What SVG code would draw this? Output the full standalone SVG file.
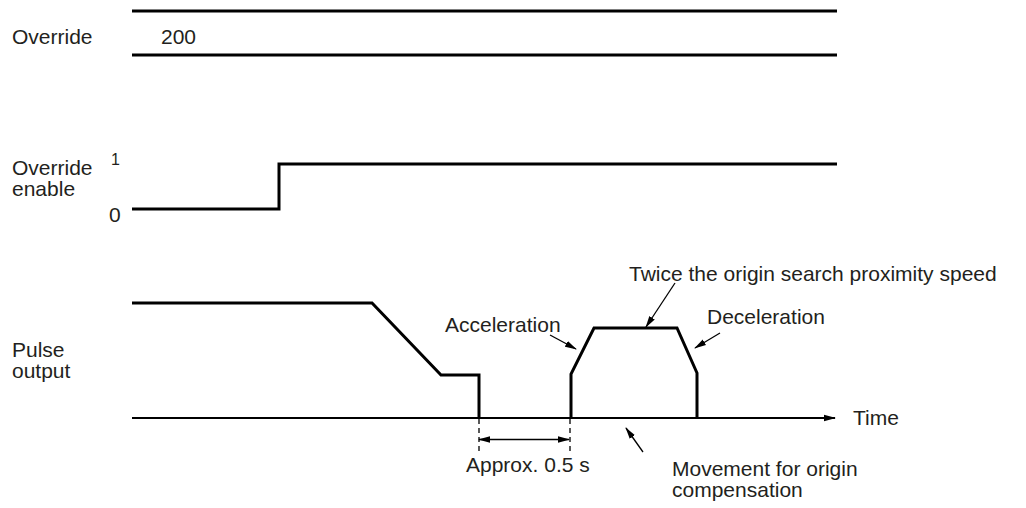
<svg xmlns="http://www.w3.org/2000/svg" width="1026" height="508" viewBox="0 0 1026 508">
<style>
text{font-family:"Liberation Sans",Arial,sans-serif;font-size:21px;fill:#231f20}
.sig{fill:none;stroke:#000;stroke-width:3;stroke-linejoin:miter}
.axis{fill:none;stroke:#000;stroke-width:2}
.thin{fill:none;stroke:#000;stroke-width:1.3}
.dash{fill:none;stroke:#000;stroke-width:1.3;stroke-dasharray:5 4}
</style>
<defs>
<marker id="ah" markerWidth="12" markerHeight="8" refX="11" refY="4" orient="auto" markerUnits="userSpaceOnUse">
<path d="M0,0.8 L12,4 L0,7.2 Z" fill="#000"/>
</marker>
<marker id="ahs" markerWidth="12" markerHeight="8" refX="1" refY="4" orient="auto" markerUnits="userSpaceOnUse">
<path d="M12,0.8 L0,4 L12,7.2 Z" fill="#000"/>
</marker>
</defs>
<g id="override">
<line class="sig" x1="132" y1="11" x2="837" y2="11"/>
<line class="sig" x1="132" y1="55" x2="837" y2="55"/>
<text x="12" y="44">Override</text>
<text x="161" y="44">200</text>
</g>
<g id="override-enable">
<polyline class="sig" points="132,209 279,209 279,164 837,164"/>
<text x="12" y="175">Override</text>
<text x="12" y="196">enable</text>
<text x="111" y="165" style="font-size:16px">1</text>
<text x="109" y="222">0</text>
</g>
<g id="pulse-output">
<polyline class="sig" points="132,303 372,303 441,375 479,375 479,418"/>
<polyline class="sig" points="571,418 571,374 594,328 677,328 697,373 697,418"/>
<text x="12" y="357">Pulse</text>
<text x="12" y="378">output</text>
</g>
<g id="connectors">
<line class="axis" x1="132" y1="418" x2="835" y2="418" marker-end="url(#ah)"/>
<line class="dash" x1="479" y1="419" x2="479" y2="451"/>
<line class="dash" x1="570" y1="419" x2="570" y2="451"/>
<line class="thin" x1="479" y1="439.5" x2="569" y2="439.5" marker-start="url(#ahs)" marker-end="url(#ah)"/>
<line class="thin" x1="550" y1="335" x2="576" y2="349" marker-end="url(#ah)"/>
<line class="thin" x1="675" y1="283" x2="646" y2="327" marker-end="url(#ah)"/>
<line class="thin" x1="720" y1="333" x2="695" y2="348" marker-end="url(#ah)"/>
<line class="thin" x1="643" y1="452" x2="626" y2="428" marker-end="url(#ah)"/>
</g>
<g id="labels">
<text x="853" y="425">Time</text>
<text x="466" y="472">Approx. 0.5 s</text>
<text x="445" y="332">Acceleration</text>
<text x="629" y="281">Twice the origin search proximity speed</text>
<text x="707" y="324">Deceleration</text>
<text x="672" y="476">Movement for origin</text>
<text x="672" y="497">compensation</text>
</g>
</svg>
